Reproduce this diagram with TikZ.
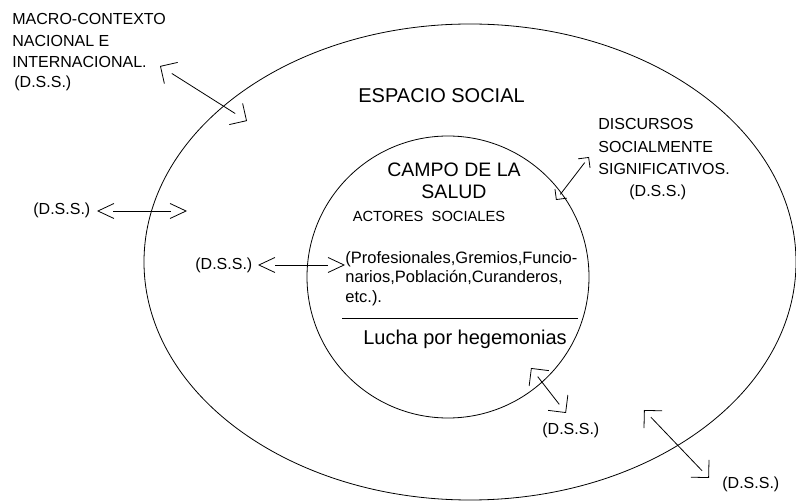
\documentclass[tikz,border=0pt]{standalone}
\usepackage{fontspec}
\setmainfont{Liberation Sans}
\usetikzlibrary{arrows.meta}

\tikzset{
  lbl/.style={inner sep=0pt, anchor=base west, font=\fontsize{16}{19}\selectfont},
  dss/.style n args={3}{shorten <=#3, shorten >=#3,
    postaction={draw, shorten <=0pt, shorten >=0pt, dash pattern=on 0pt off 2000pt,
      {Straight Barb[length=#1,width=#2]}-{Straight Barb[length=#1,width=#2]}}},
}

\begin{document}
\begin{tikzpicture}[x=1pt, y=-1pt, line width=0.8pt]
            \useasboundingbox (0,0) rectangle (796,502);
            \draw (470,262) ellipse [x radius=326, y radius=238];
            \draw (448,277) ellipse [x radius=141, y radius=141];

            \node[lbl, anchor=north west, align=left, font=\fontsize{16}{21.5}\selectfont] (macro) at (12,13)
                {MACRO-CONTEXTO\\NACIONAL E\\INTERNACIONAL.};
            \node[lbl] (dssmacro) at (14,88) {(D.S.S.)};
            \node[lbl, font=\fontsize{20}{24}\selectfont] (espacio) at (358,103) {ESPACIO SOCIAL};
            \node[lbl, anchor=north, align=center, font=\fontsize{19.5}{22}\selectfont] (campo) at (454,162)
                {CAMPO DE LA\\SALUD};
            \node[lbl, anchor=base, font=\fontsize{14.7}{18}\selectfont] (actores) at (429,222) {ACTORES~~SOCIALES};
            \node[lbl, anchor=north west, align=left, font=\fontsize{16.5}{19.5}\selectfont] (actorlist) at (345,251)
                {(Profesionales,Gremios,Funcio-\\narios,Población,Curanderos,\\etc.).};
            \coordinate (rulel) at (342,319);
            \coordinate (ruler) at (578,319);
            \draw[line width=1pt] (rulel) -- (ruler);
            \node[lbl, anchor=base, font=\fontsize{20}{24}\selectfont] (lucha) at (465,345) {Lucha por hegemonias};
            \node[lbl, anchor=north west, align=left, font=\fontsize{16}{22.5}\selectfont] (discursos) at (598,118)
                {DISCURSOS\\SOCIALMENTE\\SIGNIFICATIVOS.};
            \node[lbl] (dssdisc) at (629,197) {(D.S.S.)};
            \node[lbl] (dssleft) at (33,215) {(D.S.S.)};
            \node[lbl] (dssinner) at (195,270) {(D.S.S.)};
            \node[lbl] (dsslow) at (542,435) {(D.S.S.)};
            \node[lbl] (dssedge) at (722,489) {(D.S.S.)};

            % ends of the double arrows
            \coordinate (macro-a) at (160,66);
            \coordinate (macro-b) at (247,121);
            \coordinate (left-a) at (97,211);
            \coordinate (left-b) at (187,211);
            \coordinate (inner-a) at (258,265);
            \coordinate (inner-b) at (345,265);
            \coordinate (disc-a) at (589,157);
            \coordinate (disc-b) at (556,200);
            \coordinate (low-a) at (531,368);
            \coordinate (low-b) at (566,413);
            \coordinate (edge-a) at (644,410);
            \coordinate (edge-b) at (709,478);

            \draw[dss={12.5pt}{25pt}{14pt}] (macro-a) -- (macro-b);
            \draw[dss={16pt}{15pt}{16pt}] (left-a) -- (left-b);
            \draw[dss={16pt}{15pt}{17pt}] (inner-a) -- (inner-b);
            \draw[dss={7.5pt}{15pt}{7pt}] (disc-a) -- (disc-b);
            \draw[dss={12.5pt}{25pt}{11pt}] (low-a) -- (low-b);
            \draw[dss={12.5pt}{25pt}{10pt}] (edge-a) -- (edge-b);
        \end{tikzpicture}
\end{document}
